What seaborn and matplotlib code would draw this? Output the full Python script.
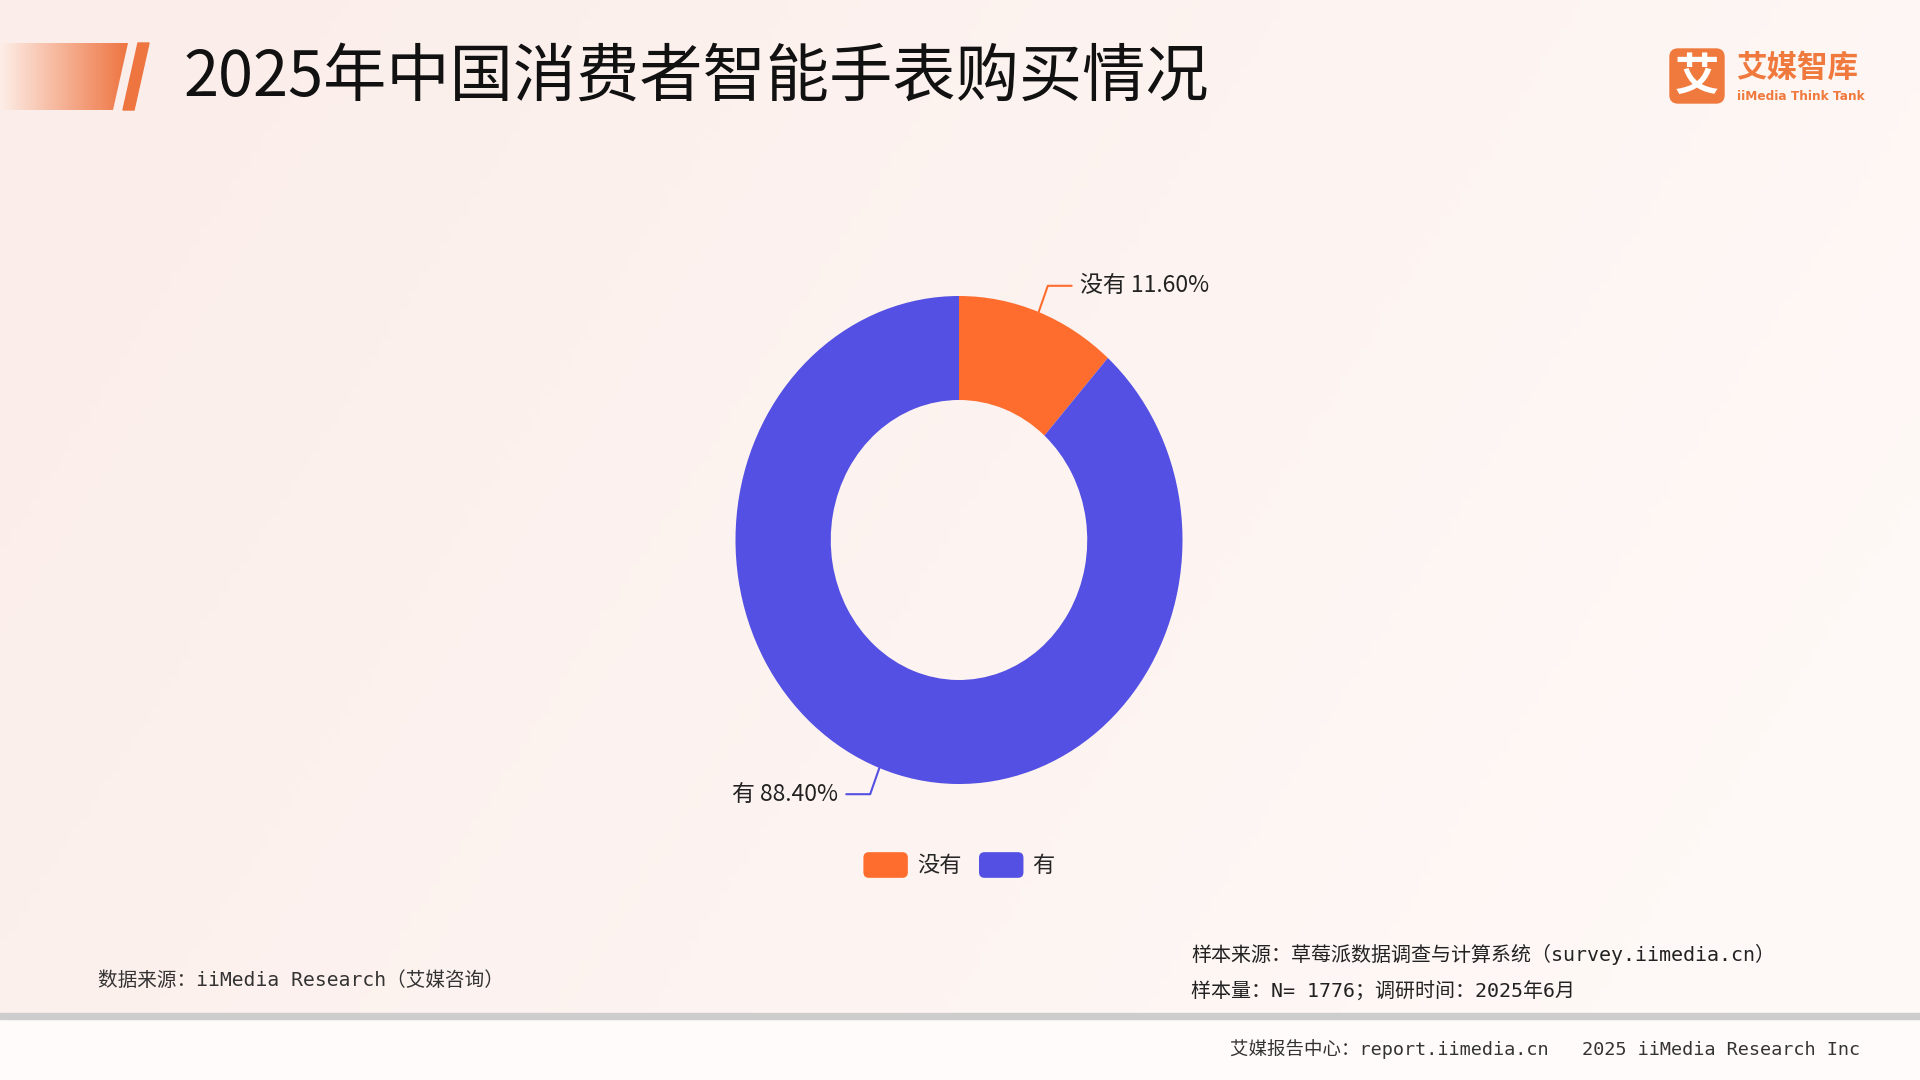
import numpy as np
import matplotlib
matplotlib.use("Agg")
import matplotlib.pyplot as plt
from matplotlib.patches import Polygon, FancyBboxPatch, Patch
from matplotlib.legend_handler import HandlerPatch
from matplotlib.colors import to_rgb
import seaborn as sns

# data
categories = ["没有", "有"]
shares = [11.60, 88.40]
title = "2025年中国消费者智能手表购买情况"
source_left = "数据来源：iiMedia Research（艾媒咨询）"
sample_source = "样本来源：草莓派数据调查与计算系统（survey.iimedia.cn）"
sample_size = "样本量：N= 1776；调研时间：2025年6月"
footer = "艾媒报告中心：report.iimedia.cn   2025 iiMedia Research Inc"

sns.set_theme(style="white")
plt.rcParams['font.family'] = ['Noto Sans CJK SC', 'DejaVu Sans']
palette = sns.color_palette(["#FF6D2E", "#5350E3"])
mono = ['DejaVu Sans Mono', 'Noto Sans CJK SC']


class RoundHandler(HandlerPatch):
    def create_artists(self, legend, orig_handle, xdescent, ydescent,
                       width, height, fontsize, trans):
        p = FancyBboxPatch((-xdescent, -ydescent), width, height,
                           boxstyle="round,pad=0,rounding_size=4",
                           facecolor=orig_handle.get_facecolor(),
                           edgecolor="none", transform=trans)
        return [p]


W, H = 1920, 1080
fig = plt.figure(figsize=(W / 100, H / 100), dpi=100)

# background canvas in pixel coords
bg = fig.add_axes([0, 0, 1, 1])
bg.set_xlim(0, W)
bg.set_ylim(H, 0)
bg.axis("off")

yy, xx = np.mgrid[0:108, 0:192]
t = np.clip(xx / 192 * 0.75 + yy / 108 * 0.25, 0, 1)[..., None]
c0 = np.array(to_rgb("#FBEDE9"))
c1 = np.array(to_rgb("#FFFAF8"))
img = c0 * (1 - t) + c1 * t
bg.imshow(img, extent=[0, W, 1016, 0], aspect="auto", zorder=0)
bg.add_patch(plt.Rectangle((0, 1016), W, 64, color="#FEFBFA", zorder=0))
bg.add_patch(plt.Rectangle((0, 1013), W, 6, color="#CDCDCD", zorder=1))

# header decoration
grad = np.linspace(0, 1, 256)[None, :, None]
g0 = np.array(to_rgb("#FDEEE8"))
g1 = np.array(to_rgb("#EE7440"))
gimg = g0 * (1 - grad) + g1 * grad
poly = Polygon([(0, 43), (128, 43), (113, 110), (0, 110)], closed=True,
               facecolor="none", edgecolor="none")
bg.add_patch(poly)
im = bg.imshow(gimg, extent=[0, 128, 110, 43], aspect="auto", zorder=2)
im.set_clip_path(poly)
bg.add_patch(Polygon([(138, 43), (149, 43), (134, 110), (123, 110)],
                     closed=True, color="#EE7440", zorder=2))

bg.text(184, 78, title, fontsize=45.5, color="#111111", va="center", ha="left")

# logo
bg.add_patch(FancyBboxPatch((1670, 49), 54, 54, boxstyle="round,pad=0,rounding_size=8",
                            color="#F07A3E", zorder=3))
bg.text(1697, 77, "艾", fontsize=32, color="white", weight="bold",
        ha="center", va="center", zorder=4)
bg.text(1736, 68, "艾媒智库", fontsize=22, color="#F07A3E", weight="bold",
        ha="left", va="center")
bg.text(1737, 96, "iiMedia Think Tank", fontsize=8.7, color="#F07A3E", weight="bold",
        ha="left", va="center", family=['DejaVu Sans'])

# footer texts
bg.text(98, 981, source_left, fontsize=14.1, color="#333333", va="center", family=mono)
bg.text(1191, 954, sample_source, fontsize=14.4, color="#222222", va="center", family=mono)
bg.text(1191, 992, sample_size, fontsize=14.4, color="#222222", va="center", family=mono)
bg.text(1230, 1049, footer, fontsize=13.3, color="#333333", va="center", family=mono)

# donut (slightly squeezed horizontally, as in the reference)
RX, RY = 223.5, 244
half = 320
ax = fig.add_axes([(959 - half) / W, (H - 540 - half) / H, 2 * half / W, 2 * half / H])
wedges, _ = ax.pie(shares, colors=palette, startangle=90, counterclock=False,
                   radius=1, wedgeprops=dict(width=1 - 140 / RY, linewidth=0))
ax.set_aspect("auto")
ax.set_xlim(-half / RX, half / RX)
ax.set_ylim(-half / RY, half / RY)
ax.axis("off")

for w, cat, val, col in zip(wedges, categories, shares, palette):
    ang = np.deg2rad((w.theta1 + w.theta2) / 2)
    ca, sa = np.cos(ang), np.sin(ang)
    side = 1 if ca >= 0 else -1
    p0 = (ca * 0.995, sa * 0.995)
    p1 = (ca * 1.115, sa * 1.115)
    p2 = (p1[0] + side * 0.107, p1[1])
    ax.plot([p0[0], p1[0], p2[0]], [p0[1], p1[1], p2[1]], color=col, lw=1.5,
            clip_on=False)
    ax.text(p2[0] + side * 0.036, p2[1], f"{cat} {val:.2f}%", fontsize=16.5,
            color="#222222", ha="left" if side > 0 else "right", va="center")

handles = [Patch(facecolor=c, edgecolor="none") for c in palette]
fig.legend(handles, categories, loc="center", bbox_to_anchor=(959 / W, 1 - 865 / H),
           ncol=2, frameon=False, fontsize=16, handlelength=2.0, handleheight=1.4,
           handletextpad=0.4, columnspacing=0.8,
           handler_map={Patch: RoundHandler()})

fig.savefig("out.png", dpi=100)
